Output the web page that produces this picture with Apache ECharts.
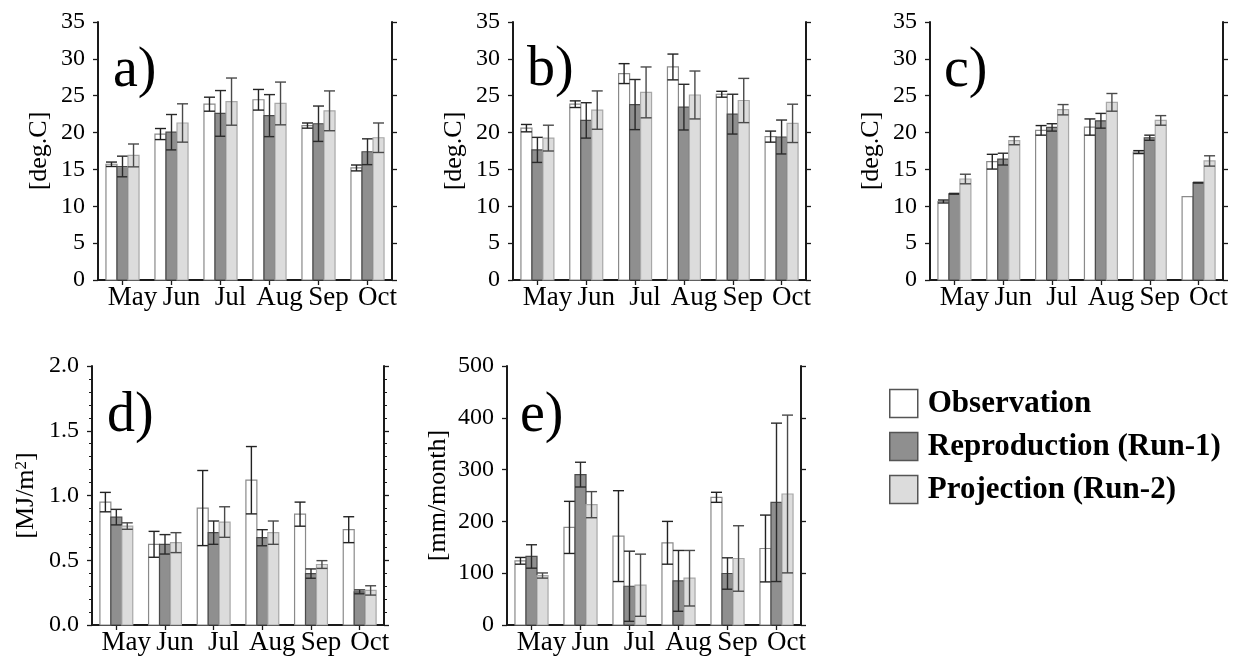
<!DOCTYPE html>
<html>
<head>
<meta charset="utf-8">
<script src="https://cdn.jsdelivr.net/npm/echarts@6/dist/echarts.min.js"></script>
<style>
html,body{margin:0;padding:0;background:#fff;}
#chart{width:1242px;height:657px;}
</style>
</head>
<body>
<div id="chart"></div>
<script>
const months = ['May', 'Jun', 'Jul', 'Aug', 'Sep', 'Oct'];
const seriesNames = ['Observation', 'Reproduction (Run-1)', 'Projection (Run-2)'];

// Panel a) temperature  [Observation, Run-1, Run-2]
const aMean = [
  [15.7, 19.8, 23.85, 24.45, 20.95, 15.2],
  [15.4, 20.05, 22.6, 22.3, 21.2, 17.4],
  [16.9, 21.3, 24.2, 23.95, 22.95, 19.3]
];
const aSd = [
  [0.3, 0.75, 0.95, 1.4, 0.35, 0.4],
  [1.4, 2.4, 3.1, 2.85, 2.4, 1.75],
  [1.55, 2.6, 3.2, 2.9, 2.7, 2.0]
];
// Panel b)
const bMean = [
  [20.6, 23.85, 28.0, 28.9, 25.2, 19.45],
  [17.65, 21.65, 23.8, 23.45, 22.5, 19.4],
  [19.25, 23.05, 25.45, 25.1, 24.35, 21.25]
];
const bSd = [
  [0.5, 0.45, 1.35, 1.75, 0.4, 0.75],
  [1.7, 2.4, 3.4, 3.1, 2.7, 2.3],
  [1.75, 2.6, 3.45, 3.25, 3.0, 2.6]
];
// Panel c)
const cMean = [
  [10.65, 16.05, 20.3, 20.75, 17.35, 11.3],
  [11.7, 16.4, 20.7, 21.6, 19.3, 13.2],
  [13.7, 18.9, 23.1, 24.1, 21.65, 16.15]
];
const cSd = [
  [0.2, 1.0, 0.65, 1.1, 0.2, 0],
  [0.05, 0.8, 0.5, 1.0, 0.35, 0.05],
  [0.65, 0.55, 0.7, 1.2, 0.65, 0.7]
];
// Panel d) radiation
const dMean = [
  [0.949, 0.623, 0.903, 1.118, 0.856, 0.736],
  [0.833, 0.623, 0.713, 0.674, 0.397, 0.256],
  [0.764, 0.636, 0.795, 0.713, 0.467, 0.267]
];
const dSd = [
  [0.075, 0.1, 0.29, 0.26, 0.093, 0.1],
  [0.06, 0.075, 0.09, 0.062, 0.036, 0.015],
  [0.025, 0.077, 0.118, 0.09, 0.03, 0.036]
];
// Panel e) precipitation
const eMean = [
  [123.9, 188.4, 171.6, 158.7, 246.5, 147.7],
  [132.3, 290.3, 74.8, 85.2, 99.4, 236.8],
  [95.5, 232.3, 76.8, 90.3, 128.4, 252.9]
];
const eSd = [
  [6.5, 50.3, 87.7, 41.3, 9.7, 64.5],
  [22.6, 23.9, 67.7, 58.7, 30.3, 152.9],
  [5, 25.2, 60, 53.6, 63.2, 152.3]
];

const yTicksTemp = {min: 0, max: 35, interval: 5};
const yTicksRad = {min: 0, max: 2, interval: 0.5};
const yTicksPre = {min: 0, max: 500, interval: 100};

const SERIF = '"Liberation Serif", "DejaVu Serif", serif';
const fills = ['#ffffff', '#8f8f8f', '#dcdcdc'];
const strokes = ['#8a8a8a', '#4a4a4a', '#a8a8a8'];
const errColors = ['#222222', '#2a2a2a', '#4a4a4a'];

const panels = [
  {letter: 'a)', mean: aMean, sd: aSd, ticks: yTicksTemp, name: '[deg.C]', grid: {left: 98, top: 22, width: 294, height: 258}, fmt: v => String(v), nameGap: 46, minor: false, lx: 108, ly: 38},
  {letter: 'b)', mean: bMean, sd: bSd, ticks: yTicksTemp, name: '[deg.C]', grid: {left: 513, top: 22, width: 293, height: 258}, fmt: v => String(v), nameGap: 46, minor: false, lx: 522, ly: 37},
  {letter: 'c)', mean: cMean, sd: cSd, ticks: yTicksTemp, name: '[deg.C]', grid: {left: 930, top: 22, width: 293, height: 258}, fmt: v => String(v), nameGap: 46, minor: false, lx: 939, ly: 38},
  {letter: 'd)', mean: dMean, sd: dSd, ticks: yTicksRad, name: '{n|[MJ/m}{s|2}{n|]}', grid: {left: 92, top: 366, width: 292, height: 259}, fmt: v => v.toFixed(1), nameGap: 52, minor: true, lx: 102, ly: 383},
  {letter: 'e)', mean: eMean, sd: eSd, ticks: yTicksPre, name: '[mm/month]', grid: {left: 507, top: 366, width: 294, height: 259}, fmt: v => String(v), nameGap: 56, minor: false, lx: 515, ly: 383}
];

function makeRender(pos) {
  return function (params, api) {
    const idx = api.value(0), v = api.value(1), sd = api.value(2);
    const band = api.size([1, 0])[0];
    const bw = band * 0.225;
    const base = api.coord([idx, 0]);
    const xc = base[0] + (pos - 1) * bw;
    const x0 = xc - bw / 2;
    const yTop = api.coord([idx, v])[1];
    const children = [{
      type: 'rect',
      shape: {x: x0, y: yTop, width: bw, height: base[1] - yTop},
      style: {fill: fills[pos], stroke: strokes[pos], lineWidth: 1.2}
    }];
    if (sd > 0) {
      const yHi = api.coord([idx, v + sd])[1];
      const yLo = api.coord([idx, v - sd])[1];
      const es = {stroke: errColors[pos], lineWidth: 1.4};
      children.push({type: 'line', shape: {x1: xc, y1: yHi, x2: xc, y2: yLo}, style: es});
      children.push({type: 'line', shape: {x1: x0, y1: yHi, x2: x0 + bw, y2: yHi}, style: es});
      children.push({type: 'line', shape: {x1: x0, y1: yLo, x2: x0 + bw, y2: yLo}, style: es});
    }
    return {type: 'group', children: children};
  };
}

const grids = [], xAxes = [], yAxes = [], series = [], titles = [];
const axisLineStyle = {show: true, lineStyle: {color: '#1a1a1a', width: 2}};
const tickStyle = {lineStyle: {color: '#1a1a1a', width: 1.3}, length: 5};

panels.forEach((p, i) => {
  grids.push(Object.assign({containLabel: false}, p.grid));
  xAxes.push({
    type: 'category', data: months, gridIndex: i, position: 'bottom',
    axisLine: axisLineStyle,
    axisTick: Object.assign({show: true, alignWithLabel: true}, tickStyle),
    axisLabel: {fontFamily: SERIF, fontSize: 27, color: '#000', margin: 4, padding: [0, 0, 0, 20], interval: 0},
    splitLine: {show: false}
  });
  xAxes.push({
    type: 'category', data: months, gridIndex: i, position: 'top',
    axisLine: axisLineStyle,
    axisTick: Object.assign({show: true, alignWithLabel: true}, tickStyle),
    axisLabel: {show: false}, splitLine: {show: false}
  });
  const yBase = {
    type: 'value', gridIndex: i, min: p.ticks.min, max: p.ticks.max, interval: p.ticks.interval,
    axisLine: axisLineStyle,
    axisTick: Object.assign({show: true}, tickStyle),
    minorTick: {show: p.minor, splitNumber: 5, length: 3, lineStyle: {color: '#1a1a1a', width: 1}},
    splitLine: {show: false}
  };
  yAxes.push(Object.assign({}, yBase, {
    position: 'left',
    name: p.name, nameLocation: 'middle', nameRotate: 90, nameGap: p.nameGap,
    nameTextStyle: {fontFamily: SERIF, fontSize: 26, color: '#000',
      rich: {n: {fontFamily: SERIF, fontSize: 26, color: '#000'}, s: {fontFamily: SERIF, fontSize: 17, color: '#000', verticalAlign: 'top', padding: [0, 0, 10, 0]}}},
    axisLabel: {fontFamily: SERIF, fontSize: 24, color: '#000', margin: 13, formatter: p.fmt}
  }));
  yAxes.push(Object.assign({}, yBase, {position: 'right', axisLabel: {show: false}}));
  for (let s = 0; s < 3; s++) {
    series.push({
      type: 'custom', name: seriesNames[s],
      xAxisIndex: 2 * i, yAxisIndex: 2 * i,
      renderItem: makeRender(s),
      encode: {x: 0, y: 1},
      itemStyle: {color: fills[s], borderColor: strokes[s]},
      data: p.mean[s].map((m, k) => [k, m, p.sd[s][k]]),
      silent: true, animation: false
    });
  }
  titles.push({
    text: p.letter, left: p.lx, top: p.ly,
    textStyle: {fontFamily: SERIF, fontSize: 56, fontWeight: 'normal', color: '#000'}
  });
});

const chart = echarts.init(document.getElementById('chart'), null, {renderer: 'canvas'});
chart.setOption({
  backgroundColor: '#ffffff',
  animation: false,
  title: titles,
  grid: grids,
  xAxis: xAxes,
  yAxis: yAxes,
  legend: {
    orient: 'vertical', left: 884, top: 383,
    itemWidth: 28, itemHeight: 28, itemGap: 12,
    icon: 'rect',
    selectedMode: false,
    data: seriesNames.map((n, k) => ({name: n, itemStyle: {color: fills[k], borderColor: '#555', borderWidth: 1.5}})),
    textStyle: {fontFamily: SERIF, fontSize: 31, fontWeight: 'bold', color: '#000', lineHeight: 28, padding: [0, 0, 0, 5]}
  },
  series: series
});
</script>
</body>
</html>
